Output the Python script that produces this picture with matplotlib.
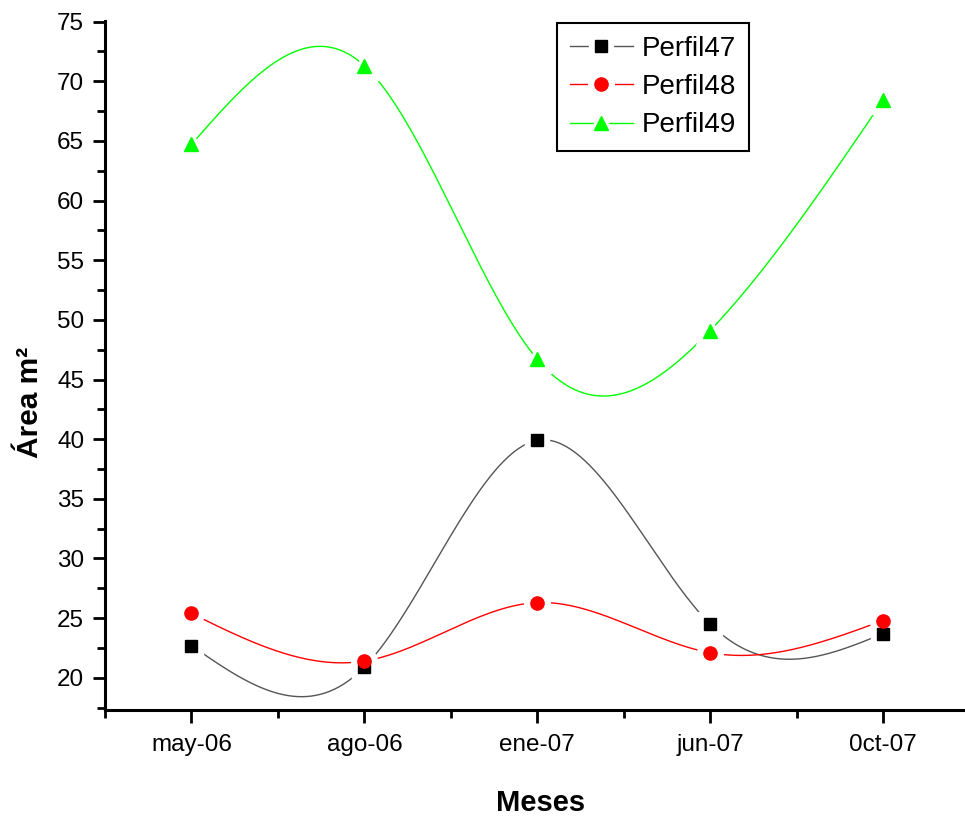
import numpy as np
import matplotlib
matplotlib.use("Agg")
import matplotlib.pyplot as plt
from matplotlib.legend_handler import HandlerTuple
from matplotlib.ticker import MultipleLocator

plt.rcParams['font.family'] = ['Liberation Sans', 'DejaVu Sans']

months = ["may-06", "ago-06", "ene-07", "jun-07", "0ct-07"]
perfil47 = [22.7, 20.9, 39.9, 24.5, 23.7]
perfil48 = [25.4, 21.4, 26.3, 22.1, 24.8]
perfil49 = [64.7, 71.3, 46.7, 49.1, 68.4]


def natural_spline(x, y, n=300):
    """Natural cubic spline through (x, y), evaluated on a dense grid."""
    x = np.asarray(x, float)
    y = np.asarray(y, float)
    k = len(x)
    h = np.diff(x)
    A = np.zeros((k, k))
    r = np.zeros(k)
    A[0, 0] = A[-1, -1] = 1.0
    for i in range(1, k - 1):
        A[i, i - 1] = h[i - 1]
        A[i, i] = 2 * (h[i - 1] + h[i])
        A[i, i + 1] = h[i]
        r[i] = 6 * ((y[i + 1] - y[i]) / h[i] - (y[i] - y[i - 1]) / h[i - 1])
    M = np.linalg.solve(A, r)
    xs = np.linspace(x[0], x[-1], n)
    idx = np.clip(np.searchsorted(x, xs) - 1, 0, k - 2)
    x0, x1 = x[idx], x[idx + 1]
    hh = x1 - x0
    a = (x1 - xs) / hh
    b = (xs - x0) / hh
    ys = (a * y[idx] + b * y[idx + 1]
          + ((a ** 3 - a) * M[idx] + (b ** 3 - b) * M[idx + 1]) * hh ** 2 / 6)
    return xs, ys


fig = plt.figure(figsize=(9.65, 8.23), dpi=100)
ax = fig.add_axes([105 / 965, 1 - 710 / 823, 1 - 105 / 965, (710 - 21) / 823])

xpos = np.arange(len(months))
series = [
    ("Perfil47", perfil47, "#000000", "#555555", "s", 8),
    ("Perfil48", perfil48, "#ff0000", "#ff0000", "o", 9.5),
    ("Perfil49", perfil49, "#00ff00", "#00ff00", "^", 10.5),
]

handles = []
for name, vals, mc, lc, mk, ms in series:
    xs, ys = natural_spline(xpos, vals)
    ln, = ax.plot(xs, ys, color=lc, lw=1.0, zorder=2)
    handles.append((ln, name, mc, mk, ms))

# white halos open a small gap in the curves around each marker
halo_h = []
for name, vals, mc, lc, mk, ms in series:
    h, = ax.plot(xpos, vals, ls='none', marker=mk, ms=ms + 9,
                 mfc='white', mec='white', zorder=3)
    halo_h.append(h)

mark_h = []
for name, vals, mc, lc, mk, ms in series:
    m, = ax.plot(xpos, vals, ls='none', marker=mk, ms=ms,
                 mfc=mc, mec=mc, zorder=4)
    mark_h.append(m)

ax.set_xlim(-0.5, 4.474)
ax.set_ylim(17.3, 75.05)
ax.set_xticks(xpos)
ax.set_xticklabels(months)
ax.xaxis.set_minor_locator(MultipleLocator(0.5))
ax.yaxis.set_major_locator(MultipleLocator(5))
ax.yaxis.set_minor_locator(MultipleLocator(2.5))

for s in ("top", "right"):
    ax.spines[s].set_visible(False)
for s in ("left", "bottom"):
    ax.spines[s].set_linewidth(2.2)

ax.tick_params(axis='both', which='major', direction='out', length=9,
               width=2.0, labelsize=17.5, pad=6)
ax.tick_params(axis='both', which='minor', direction='out', length=6,
               width=2.0)
ax.tick_params(axis='x', which='major', pad=8)

fig.text(541 / 965, 1 - 803 / 823, "Meses", fontsize=21, fontweight='bold',
         ha='center', va='center')
fig.text(30 / 965, 1 - 402 / 823, "Área m²", fontsize=21.5, fontweight='bold',
         ha='center', va='center', rotation=90)

leg_handles = [(h[0], hl, mk) for h, hl, mk in zip(handles, halo_h, mark_h)]
leg_labels = [h[1] for h in handles]
leg = ax.legend(leg_handles, leg_labels,
                handler_map={tuple: HandlerTuple(ndivide=1)},
                loc='upper left', bbox_to_anchor=(557 / 965, 1 - 23 / 823),
                bbox_transform=fig.transFigure, fontsize=20, frameon=True,
                fancybox=False, edgecolor='black', framealpha=1,
                handlelength=2.3, handletextpad=0.3, labelspacing=0.45,
                borderpad=0.45, borderaxespad=0)
leg.get_frame().set_linewidth(1.5)

fig.savefig("out.png", dpi=100)
